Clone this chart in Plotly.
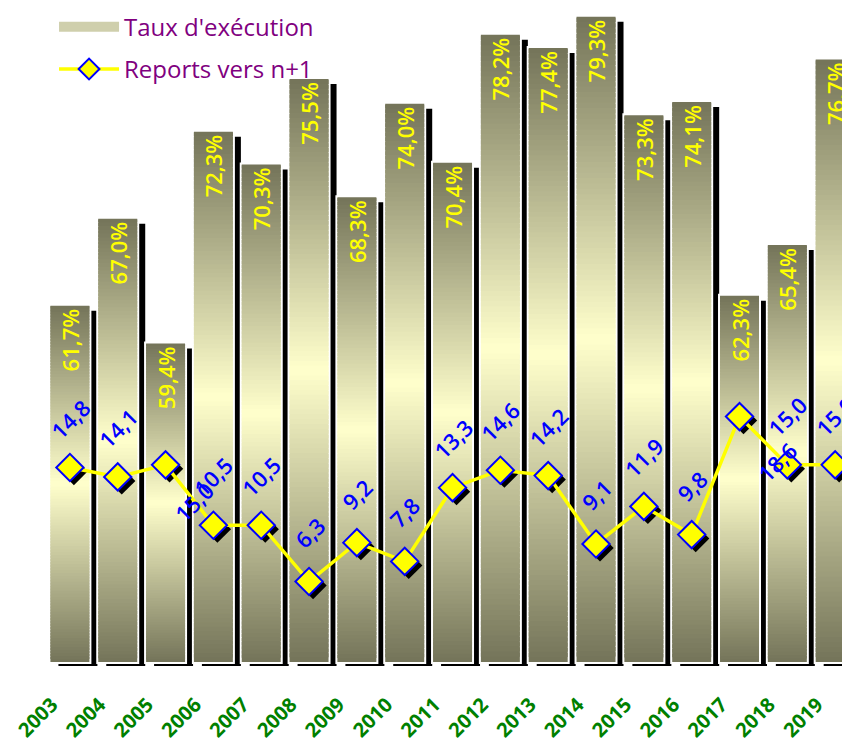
import plotly.graph_objects as go

# Données
annees = [str(a) for a in range(2003, 2020)]
taux_execution = [61.7, 67.0, 59.4, 72.3, 70.3, 75.5, 68.3, 74.0, 70.4,
                  78.2, 77.4, 79.3, 73.3, 74.1, 62.3, 65.4, 76.7]
reports_n1 = [14.8, 14.1, 15.0, 10.5, 10.5, 6.3, 9.2, 7.8, 13.3,
              14.6, 14.2, 9.1, 11.9, 9.8, 18.6, 15.0, 15.0]

# Mise en page (la page html ajoute une marge de 8 px)
W, H = 842, 734
ML, MR, MT, MB = 38, 0, 0, 76
x_range = [-0.5, 16.31]
y_range = [39.756, 79.83]
y2_range = [0, 49.07]
BASE = 40
kx = (W - ML - MR) / (x_range[1] - x_range[0])
ky = (H - MT - MB) / (y_range[1] - y_range[0])
ky2 = (H - MT - MB) / (y2_range[1] - y2_range[0])
BAR_W = 0.815
FONT = "Open Sans"

xs = list(range(len(annees)))
hauteurs = [v - BASE for v in taux_execution]

fig = go.Figure()

# ombre des barres
fig.add_trace(go.Bar(x=[i + 8 / kx for i in xs], y=hauteurs, base=BASE - 5 / ky,
                     width=BAR_W, marker=dict(color="black", line=dict(width=0)),
                     showlegend=False, hoverinfo="skip"))
# liseré blanc
fig.add_trace(go.Bar(x=xs, y=hauteurs, base=BASE, width=BAR_W,
                     marker=dict(color="white", line=dict(color="white", width=4)),
                     showlegend=False, hoverinfo="skip"))

# entrée de légende des barres
fig.add_trace(go.Scatter(x=[None], y=[None], mode="lines", name="Taux d'exécution",
                         line=dict(color="#cfcfac", width=15), legendgroup="a"))

# dégradé : sombre aux extrémités, clair au centre
N = 120
bord = (0x74, 0x74, 0x59)
centre = (0xFF, 0xFF, 0xCC)
for k in range(N):
    t = (k + 0.5) / N
    d = abs(t - 0.5) * 2
    c = tuple(round(centre[j] + (bord[j] - centre[j]) * d) for j in range(3))
    col = "rgb(%d,%d,%d)" % c
    seg = [h / N for h in hauteurs]
    fig.add_trace(go.Bar(
        x=xs, y=[s * (1.0 if k == N - 1 else 1.8) for s in seg],
        base=[BASE + k * s for s in seg], width=BAR_W,
        marker=dict(color=col, line=dict(width=0)),
        showlegend=False, hoverinfo="skip"))

# étiquettes des barres
fig.add_trace(go.Bar(
    x=xs, y=hauteurs, base=BASE, width=BAR_W,
    marker=dict(color="rgba(0,0,0,0)", line=dict(width=0)),
    text=[("%.1f" % v).replace(".", ",") + "%" for v in taux_execution],
    textposition="inside", insidetextanchor="end", textangle=-90,
    textfont=dict(color="#ffff00", size=22, family=FONT, weight=600),
    constraintext="none", showlegend=False, hoverinfo="skip"))

# ombre des marqueurs
fig.add_trace(go.Scatter(
    x=[i + 4 / kx for i in xs], y=[r - 4 / ky2 for r in reports_n1], yaxis="y2",
    mode="markers", marker=dict(symbol="diamond", size=21, color="black"),
    showlegend=False, hoverinfo="skip"))

fig.add_trace(go.Scatter(
    x=xs, y=reports_n1, yaxis="y2", mode="lines+markers",
    name="Reports vers n+1", legendgroup="b",
    line=dict(color="#ffff00", width=3.5),
    marker=dict(symbol="diamond", size=21, color="#ffff00",
                line=dict(color="#0000ff", width=2))))

# étiquettes de la courbe
decalages = {2: (28, -37), 14: (37, -45)}
for i, r in zip(xs, reports_n1):
    dx, dy = decalages.get(i, (0, 49))
    fig.add_annotation(x=i, y=r, xref="x", yref="y2", showarrow=False,
                       text=("%.1f" % r).replace(".", ","), textangle=-45,
                       xshift=dx, yshift=dy,
                       font=dict(color="#0000ff", size=22, family=FONT, weight=600))

fig.update_layout(
    width=W, height=H, barmode="overlay",
    margin=dict(l=ML, r=MR, t=MT, b=MB, autoexpand=False),
    paper_bgcolor="white", plot_bgcolor="white",
    xaxis=dict(range=x_range, tickvals=xs, ticktext=annees, tickangle=-45,
               showgrid=False, zeroline=False, showline=False, ticks="",
               automargin=False,
               ticklabelstandoff=22, ticklabelshift=-18, ticklabeloverflow="allow",
               tickfont=dict(color="#008000", size=20, family=FONT, weight=700)),
    yaxis=dict(range=y_range, visible=False, showgrid=False, automargin=False),
    yaxis2=dict(range=y2_range, overlaying="y", visible=False, showgrid=False,
                automargin=False),
    legend=dict(x=0.01, y=1.005, xanchor="left", yanchor="top",
                bgcolor="rgba(0,0,0,0)", itemwidth=60, tracegroupgap=8,
                font=dict(color="#800080", size=24, family=FONT)),
    showlegend=True,
)

fig.write_html("out.html")
